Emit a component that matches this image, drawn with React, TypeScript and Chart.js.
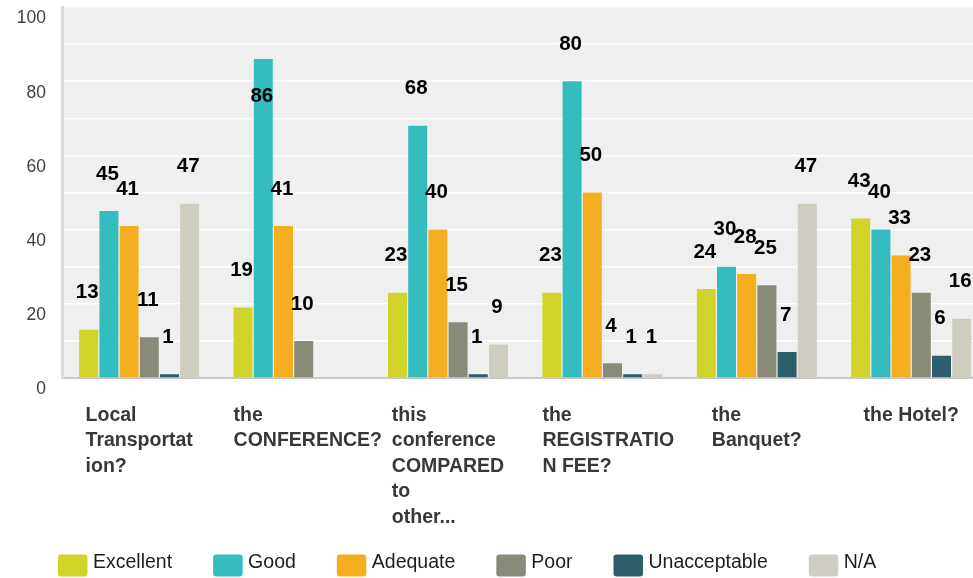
import React, { useEffect, useRef } from 'react';
import { Chart, registerables } from 'chart.js';

Chart.register(...registerables);

const categories: string[][] = [
  ['Local', 'Transportat', 'ion?'],
  ['the', 'CONFERENCE?'],
  ['this', 'conference', 'COMPARED', 'to', 'other...'],
  ['the', 'REGISTRATIO', 'N FEE?'],
  ['the', 'Banquet?'],
  ['the Hotel?'],
];
const seriesNames = ['Excellent', 'Good', 'Adequate', 'Poor', 'Unacceptable', 'N/A'];
const excellent = [13, 19, 23, 23, 24, 43];
const good = [45, 86, 68, 80, 30, 40];
const adequate = [41, 41, 40, 50, 28, 33];
const poor = [11, 10, 15, 4, 25, 23];
const unacceptable = [1, 0, 1, 1, 7, 6];
const notApplicable = [47, 0, 9, 1, 47, 16];
const yTickLabels = [0, 20, 40, 60, 80, 100];

const seriesColors = ['#d0d42a', '#33bdbf', '#f5ae20', '#8a8a79', '#2e5e6b', '#cfcdbf'];
const FONT = "'Liberation Sans', Arial, Helvetica, sans-serif";

const decorPlugin = {
  id: 'decor',
  beforeDraw(chart: any) {
    const { ctx, chartArea: a } = chart;
    ctx.save();
    ctx.fillStyle = '#efefef';
    ctx.fillRect(a.left, a.top, a.right - a.left, a.bottom - a.top);
    ctx.restore();
  },
  afterDatasetsDraw(chart: any) {
    const { ctx } = chart;
    ctx.save();
    ctx.font = `bold 20.5px ${FONT}`;
    ctx.fillStyle = '#000';
    ctx.textAlign = 'center';
    ctx.textBaseline = 'middle';
    chart.data.datasets.forEach((ds: any, i: number) => {
      const meta = chart.getDatasetMeta(i);
      meta.data.forEach((bar: any, j: number) => {
        const v = ds.data[j];
        if (!v) return;
        let y = bar.y - 37;
        if (y < 30) y = bar.y + 37;
        ctx.fillText(String(v), bar.x - 1.5, y);
      });
    });
    ctx.restore();
  },
  afterDraw(chart: any) {
    const { ctx } = chart;
    const xs = chart.scales.x;
    ctx.save();
    ctx.font = `bold 19.5px ${FONT}`;
    ctx.fillStyle = '#383838';
    ctx.textAlign = 'left';
    ctx.textBaseline = 'middle';
    (chart.data.labels as string[][]).forEach((lines, i) => {
      const cx = xs.getPixelForValue(i);
      const maxW = Math.max(...lines.map((l) => ctx.measureText(l).width));
      const start = cx - Math.min(maxW, 120) / 2;
      lines.forEach((l, k) => ctx.fillText(l, start, 415.5 + k * 25.5));
    });
    ctx.font = `19.5px ${FONT}`;
    let x = 58;
    chart.data.datasets.forEach((ds: any) => {
      ctx.fillStyle = ds.backgroundColor;
      ctx.beginPath();
      if ((ctx as any).roundRect) (ctx as any).roundRect(x, 554.5, 29.5, 22, 3);
      else ctx.rect(x, 554.5, 29.5, 22);
      ctx.fill();
      ctx.fillStyle = '#1e1e1e';
      ctx.fillText(ds.label, x + 35, 562.5);
      x += 29 + 6 + ctx.measureText(ds.label).width + 41;
    });
    ctx.restore();
  },
};

export default function App() {
  const ref = useRef<HTMLCanvasElement>(null);
  useEffect(() => {
    if (!ref.current) return;
    const values = [excellent, good, adequate, poor, unacceptable, notApplicable];
    const chart = new Chart(ref.current, {
      type: 'bar',
      data: {
        labels: categories as any,
        datasets: seriesNames.map((name, i) => ({
          label: name,
          data: values[i],
          backgroundColor: seriesColors[i],
          borderWidth: 0,
          categoryPercentage: 0.785,
          barPercentage: 0.94,
        })),
      },
      options: {
        responsive: false,
        animation: false,
        devicePixelRatio: 1,
        layout: { padding: { left: 0, right: 6.6, top: 7, bottom: 0 } },
        plugins: {
          legend: { display: false },
          tooltip: { enabled: false },
        },
        scales: {
          x: {
            grid: { display: false },
            ticks: { display: false },
            border: { display: true, color: '#c8c8c8', width: 2 },
            afterFit: (s: any) => {
              s.height = 200;
              s.paddingLeft = 0;
              s.paddingRight = 0;
            },
          },
          y: {
            min: 0,
            max: 100,
            ticks: {
              stepSize: 10,
              padding: 16,
              labelOffset: 11.5,
              color: '#404040',
              font: { family: FONT, size: 17.5 },
              callback: (v: any) => (yTickLabels.includes(Number(v)) ? String(v) : ''),
            },
            grid: { color: '#ffffff', lineWidth: 1.5, drawTicks: false },
            border: { display: true, color: '#dcdcdc', width: 3 },
            afterFit: (s: any) => {
              s.width = 62;
              s.paddingTop = 0;
              s.paddingBottom = 0;
            },
          },
        },
      },
      plugins: [decorPlugin],
    });
    return () => chart.destroy();
  }, []);
  return (
    <div style={{ position: 'absolute', left: 0, top: 0, width: 973, height: 578, overflow: 'hidden', background: '#fff' }}>
      <canvas ref={ref} width={995} height={578} style={{ display: 'block', width: 995, height: 578 }} />
    </div>
  );
}
